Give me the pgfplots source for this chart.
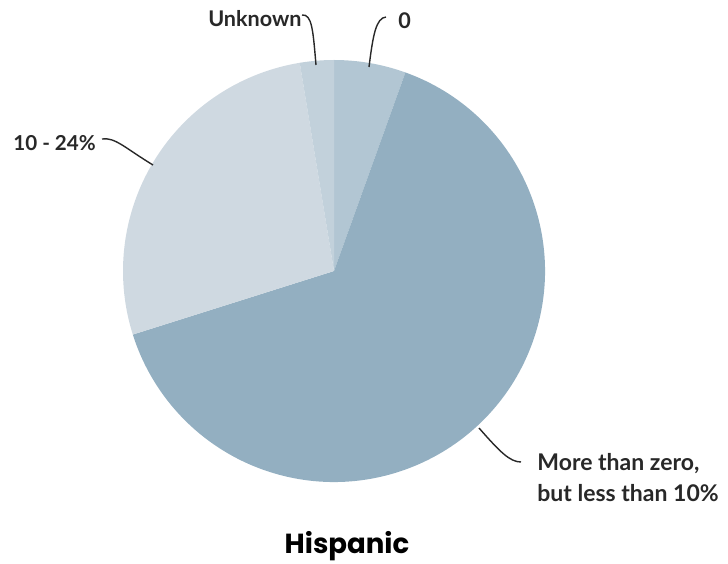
\documentclass[border=0pt]{standalone}
\usepackage{pgfplots}
\pgfplotsset{compat=1.18}
\usepackage{pgfplotstable}
\usepackage{fontspec}
\setmainfont{Lato}
\newfontfamily\titlefont{Poppins}
\definecolor{czero}{RGB}{178,198,211}
\definecolor{cmore}{RGB}{147,175,193}
\definecolor{cten}{RGB}{207,217,225}
\definecolor{cunk}{RGB}{194,209,219}
\definecolor{leader}{RGB}{40,40,40}

\pgfplotstableread{
label share
zero 5.5
more 64.7
ten 27.3
unknown 2.6
}\pietable

\begin{document}
\begin{tikzpicture}
\pgfplotstablegetelem{0}{share}\of\pietable \let\sA\pgfplotsretval
\pgfplotstablegetelem{1}{share}\of\pietable \let\sB\pgfplotsretval
\pgfplotstablegetelem{2}{share}\of\pietable \let\sC\pgfplotsretval
\pgfplotstablegetelem{3}{share}\of\pietable \let\sD\pgfplotsretval
\pgfmathsetmacro\tot{\sA+\sB+\sC+\sD}
\pgfmathsetmacro\aA{90}
\pgfmathsetmacro\aB{90-(\sA/\tot)*360}
\pgfmathsetmacro\aC{90-((\sA+\sB)/\tot)*360}
\pgfmathsetmacro\aD{90-((\sA+\sB+\sC)/\tot)*360}
\pgfmathsetmacro\aE{-270}
\def\R{105.5pt}
\begin{axis}[
  x=0.5pt, y=0.5pt,
  xmin=0, xmax=728, ymin=0, ymax=563,
  hide axis, clip=false,
]
\path (axis cs:0,0) rectangle (axis cs:728,563);
\fill[czero] (axis cs:334,292) -- ++(\aA:\R) arc[start angle=\aA, end angle=\aB, radius=\R] -- cycle;
\fill[cmore] (axis cs:334,292) -- ++(\aB:\R) arc[start angle=\aB, end angle=\aC, radius=\R] -- cycle;
\fill[cten] (axis cs:334,292) -- ++(\aC:\R) arc[start angle=\aC, end angle=\aD, radius=\R] -- cycle;
\fill[cunk] (axis cs:334,292) -- ++(\aD:\R) arc[start angle=\aD, end angle=\aE, radius=\R] -- cycle;

% leader lines
\draw[leader, line width=0.7pt] (axis cs:302,548) .. controls (axis cs:312,549) and (axis cs:313,533) .. (axis cs:316,498);
\draw[leader, line width=0.7pt] (axis cs:386,546) .. controls (axis cs:376,545) and (axis cs:373,528) .. (axis cs:369,496);
\draw[leader, line width=0.7pt] (axis cs:102,424) .. controls (axis cs:115,426) and (axis cs:125,415) .. (axis cs:153,398);
\draw[leader, line width=0.7pt] (axis cs:521,101) .. controls (axis cs:510,101) and (axis cs:500,111) .. (axis cs:479,135);

% labels
\node[font=\bfseries\fontsize{10.8}{12}\selectfont, text=leader, anchor=east, inner sep=0pt] at (axis cs:302,544) {Unknown};
\node[font=\bfseries\fontsize{10.8}{12}\selectfont, text=leader, anchor=west, inner sep=0pt] at (axis cs:398,542) {0};
\node[font=\bfseries\fontsize{10.3}{12}\selectfont, text=leader, anchor=west, inner sep=0pt] at (axis cs:13,420) {10 - 24\%};
\node[font=\bfseries\fontsize{11.5}{15.5}\selectfont, text=leader, anchor=north west, align=left, inner sep=0pt] at (axis cs:537,110) {More than zero,\\but less than 10\%};
\node[font=\titlefont\bfseries\fontsize{13.8}{15}\selectfont, text=black, inner sep=0pt] at (axis cs:347,17) {Hispanic};
\end{axis}
\end{tikzpicture}
\end{document}
